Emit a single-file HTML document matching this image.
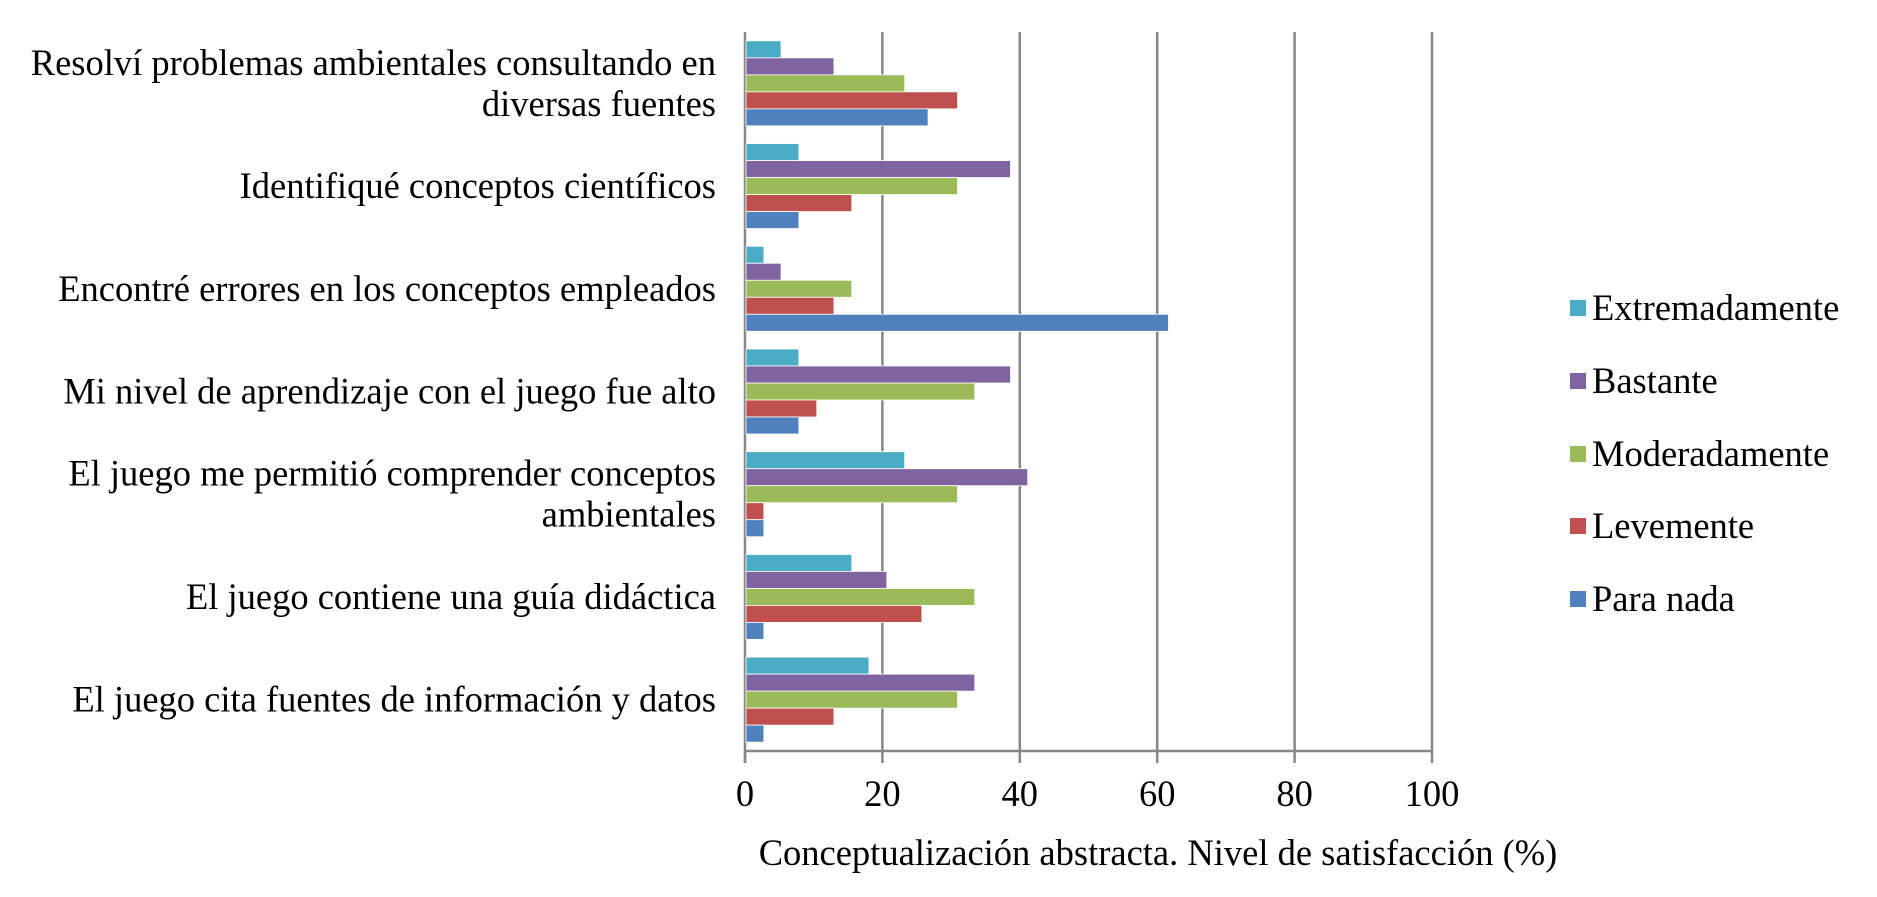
<!DOCTYPE html>
<html><head><meta charset="utf-8"><style>
html,body{margin:0;padding:0;background:#fff;}
svg{display:block;font-family:"Liberation Serif",serif;}
</style></head><body>
<svg id="chart" width="1877" height="897" viewBox="0 0 1877 897" xmlns="http://www.w3.org/2000/svg"></svg>
<script>
const categories = [
  ["Resolví problemas ambientales consultando en","diversas fuentes"],
  ["Identifiqué conceptos científicos"],
  ["Encontré errores en los conceptos empleados"],
  ["Mi nivel de aprendizaje con el juego fue alto"],
  ["El juego me permitió comprender conceptos","ambientales"],
  ["El juego contiene una guía didáctica"],
  ["El juego cita fuentes de información y datos"]
];
const seriesNames = ["Extremadamente","Bastante","Moderadamente","Levemente","Para nada"];
const seriesColors = ["#4bacc6","#8064a2","#9bbb59","#c0504d","#4f81bd"];
const extremadamente = [5.1, 7.7, 2.6, 7.7, 23.1, 15.4, 17.9];
const bastante = [12.8, 38.5, 5.1, 38.5, 41.0, 20.5, 33.3];
const moderadamente = [23.1, 30.8, 15.4, 33.3, 30.8, 33.3, 30.8];
const levemente = [30.8, 15.4, 12.8, 10.3, 2.6, 25.6, 12.8];
const paraNada = [26.5, 7.7, 61.5, 7.7, 2.6, 2.6, 2.6];
const xTicks = [0,20,40,60,80,100];
const xTitle = "Conceptualización abstracta. Nivel de satisfacción (%)";

const NS="http://www.w3.org/2000/svg";
const svg=document.getElementById('chart');
const X0=745, X1=1432, TOP=32, BOT=751;
const FS=36.5;
const xs=v=>X0+(v-0)/(100-0)*(X1-X0);
const band=(BOT-TOP)/categories.length;
const barH=17;
function mk(tag,attrs,parent){const e=document.createElementNS(NS,tag);for(const k in attrs)e.setAttribute(k,attrs[k]);(parent||svg).appendChild(e);return e;}

xTicks.forEach(t=>{
  if(t>0){const g=mk('line',{x1:xs(t),x2:xs(t),y1:TOP,y2:BOT,stroke:'#878787','stroke-width':2.5});
  
  }
  const tk=mk('line',{x1:xs(t),x2:xs(t),y1:BOT,y2:BOT+12,stroke:'#878787','stroke-width':2.5});
  
  
  const lb=mk('text',{x:xs(t),y:BOT+55,'text-anchor':'middle','font-size':FS,fill:'#000'});
  lb.textContent=t;
  
  
});
const ax=mk('line',{x1:X0,x2:X1,y1:BOT,y2:BOT,stroke:'#878787','stroke-width':2.5});


const ay=mk('line',{x1:X0,x2:X0,y1:TOP,y2:BOT+12,stroke:'#878787','stroke-width':2.5});



const series=[extremadamente,bastante,moderadamente,levemente,paraNada];
categories.forEach((c,i)=>{
  const cy=TOP+band*(i+0.5);
  const y0=cy-barH*2.5;
  series.forEach((s,j)=>{
    const r=mk('rect',{x:X0+1,y:y0+j*barH,width:Math.max(0,xs(s[i])-X0),height:barH,fill:seriesColors[j],stroke:'#fff','stroke-width':0.8});
    
    
  });
  const t=mk('text',{x:716,'text-anchor':'end','font-size':FS,fill:'#000'});
  
  
  const lh=41;
  const startY=cy+12-(c.length-1)*lh/2;
  c.forEach((line,k)=>{const ts=mk('tspan',{x:716,y:startY+k*lh},t);ts.textContent=line;});
});

const legY=[308,381,454,526,599];
seriesNames.forEach((n,j)=>{
  const g=mk('g',{});
  
  
  mk('rect',{x:1570,y:legY[j]-8,width:16,height:16,fill:seriesColors[j]},g);
  const t=mk('text',{x:1592,y:legY[j]+12,'font-size':FS,fill:'#000'},g);
  t.textContent=n;
});

const tt=mk('text',{x:1158,y:865,'text-anchor':'middle','font-size':FS,fill:'#000'});
tt.textContent=xTitle;


</script>
</body></html>
